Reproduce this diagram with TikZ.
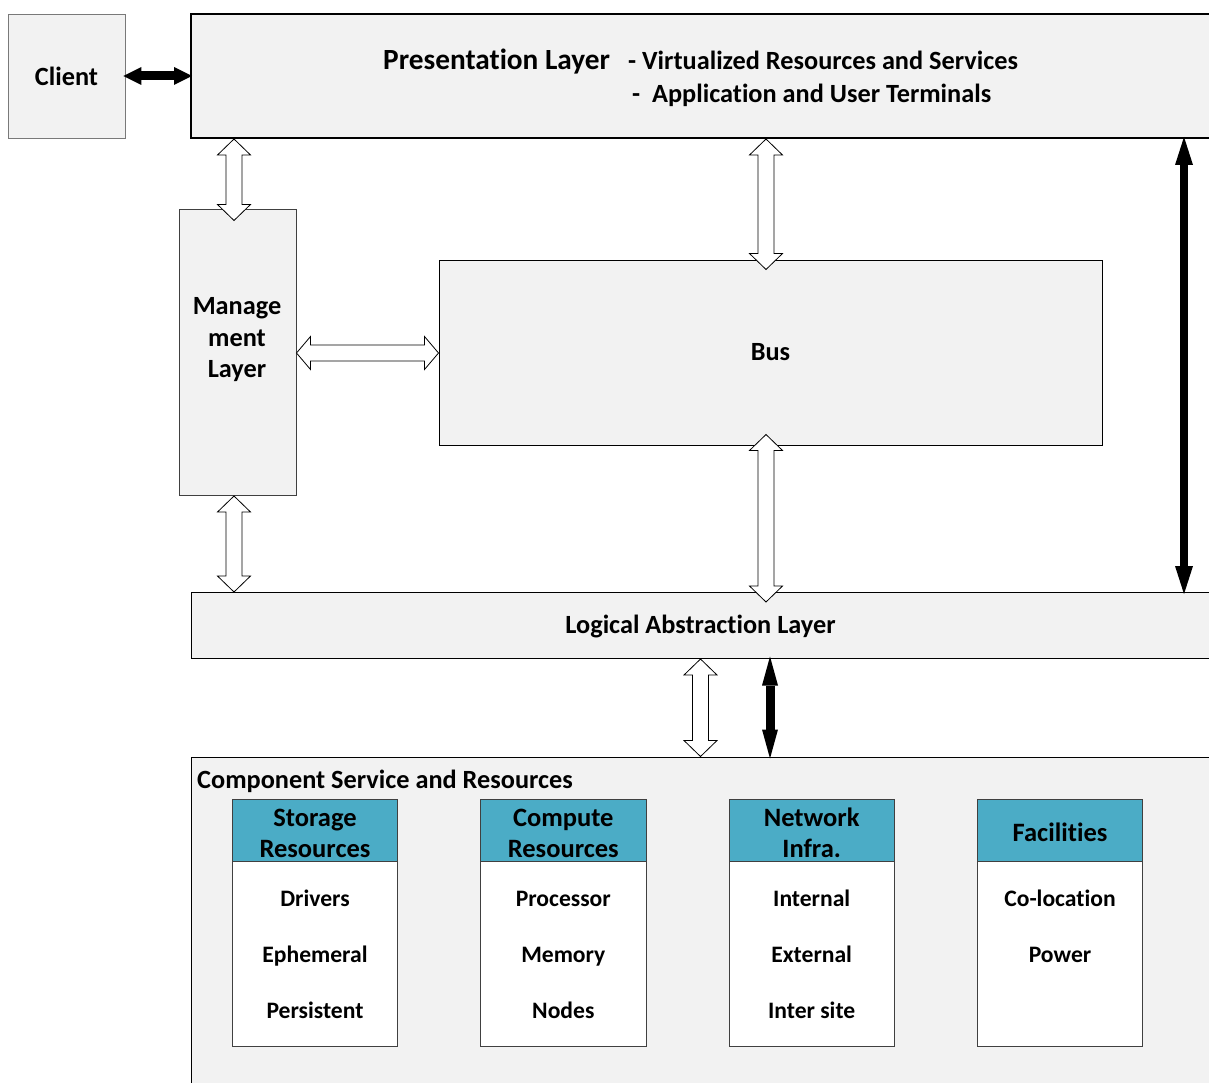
\documentclass[tikz,border=0pt]{standalone}
\usepackage{fontspec}
\setmainfont{Carlito}[Ligatures=NoCommon]
\usetikzlibrary{arrows.meta,calc}

\definecolor{boxfill}{HTML}{F2F2F2}
\definecolor{headfill}{HTML}{4BACC6}
\definecolor{edgegray}{HTML}{404040}

\newcommand{\fsTitle}{\fontsize{29.3}{34}\selectfont\bfseries}
\newcommand{\fsMain}{\fontsize{26.3}{31.5}\selectfont\bfseries}
\newcommand{\fsHead}{\fontsize{26.5}{31}\selectfont\bfseries}
\newcommand{\fsItem}{\fontsize{23.6}{27}\selectfont\bfseries}

% hollow double arrow, vertical: #1 upper tip, #2 lower tip
\newcommand{\hollowvert}[2]{%
  \draw[hollow] let \p1=(#1), \p2=(#2) in
    (\x1,\y1) -- (\x1+16.5pt,\y1-16pt) -- (\x1+8pt,\y1-16pt)
    -- (\x1+8pt,\y2+16pt) -- (\x1+16.5pt,\y2+16pt) -- (\x1,\y2)
    -- (\x1-16.5pt,\y2+16pt) -- (\x1-8pt,\y2+16pt)
    -- (\x1-8pt,\y1-16pt) -- (\x1-16.5pt,\y1-16pt) -- cycle;}
% hollow double arrow, horizontal: #1 left tip, #2 right tip
\newcommand{\hollowhoriz}[2]{%
  \draw[hollow] let \p1=(#1), \p2=(#2) in
    (\x1,\y1) -- (\x1+14pt,\y1+16.5pt) -- (\x1+14pt,\y1+8pt)
    -- (\x2-14pt,\y1+8pt) -- (\x2-14pt,\y1+16.5pt) -- (\x2,\y1)
    -- (\x2-14pt,\y1-16.5pt) -- (\x2-14pt,\y1-8pt)
    -- (\x1+14pt,\y1-8pt) -- (\x1+14pt,\y1-16.5pt) -- cycle;}

\tikzset{
  panel/.style={draw=black, line width=1pt, fill=boxfill, inner sep=0pt, font=\fsMain},
  clientbox/.style={draw=edgegray!70, line width=0.9pt, fill=boxfill, inner sep=0pt, font=\fsMain},
  txt/.style={inner sep=0pt, font=\fsMain},
  head/.style={draw=edgegray, line width=0.9pt, fill=headfill, inner sep=0pt,
    minimum width=165.5, minimum height=62, align=center, font=\fsHead},
  headtext/.style={inner sep=0pt, align=center, font=\fsHead},
  body/.style={draw=edgegray, line width=0.9pt, fill=white, inner sep=0pt,
    minimum width=165.5, minimum height=185.5},
  item/.style={inner sep=0pt, font=\fsItem, anchor=base},
  hollow/.style={draw=black, line width=0.8pt, fill=white, line join=miter},
  solidlink/.style={draw=black, line width=#1, shorten <=-2pt, shorten >=-2pt},
}

\begin{document}
\begin{tikzpicture}[x=1pt,y=-1pt]
\useasboundingbox (0,0) rectangle (1209,1083);
\clip (0,0) rectangle (1209,1083);

% layers
\node[clientbox, minimum width=117, minimum height=124] (client) at (66.5,76) {Client};
\node[panel, line width=2pt, minimum width=1021, minimum height=124] (pres) at (701.5,76) {};
\node[txt, font=\fsTitle, anchor=base west] (presT) at (383,69.5) {Presentation Layer};
\node[txt, anchor=base west] (presA) at (628,70) {- Virtualized Resources and Services};
\node[txt, anchor=base west] (presB) at (632,103) {-\ \ Application and User Terminals};

\node[panel, draw=edgegray, minimum width=117, minimum height=285] (mgmt) at (237.5,352.5) {};
\node[txt, align=center] (mgmtT) at (237,340) {Manage\\ment\\Layer};

\node[panel, minimum width=663, minimum height=185] (bus) at (770.5,352.5) {Bus};

\node[panel, minimum width=1021, minimum height=65.5] (logic) at (701.5,625.25) {};
\node[txt] (logicT) at (700.5,626.5) {Logical Abstraction Layer};

\node[panel, minimum width=1021, minimum height=333] (comp) at (701.5,923.5) {};
\node[txt, anchor=base west] (compT) at (197,788) {Component Service and Resources};

% resource groups
\node[body] (stoB) at (315,953.75) {};
\node[head] (stoH) at (315,830) {};
\node[headtext] (stoT) at (315,833) {Storage\\Resources};
\node[item] (sto1) at (315,906) {Drivers};
\node[item] (sto2) at (315,962) {Ephemeral};
\node[item] (sto3) at (315,1018) {Persistent};

\node[body] (cmpB) at (563.3,953.75) {};
\node[head] (cmpH) at (563.3,830) {};
\node[headtext] (cmpT) at (563.3,833) {Compute\\Resources};
\node[item] (cmp1) at (563.3,906) {Processor};
\node[item] (cmp2) at (563.3,962) {Memory};
\node[item] (cmp3) at (563.3,1018) {Nodes};

\node[body] (netB) at (811.7,953.75) {};
\node[head] (netH) at (811.7,830) {};
\node[headtext] (netT) at (811.7,833) {Network\\Infra.};
\node[item] (net1) at (811.7,906) {Internal};
\node[item] (net2) at (811.7,962) {External};
\node[item] (net3) at (811.7,1018) {Inter site};

\node[body] (facB) at (1060,953.75) {};
\node[head] (facH) at (1060,830) {};
\node[headtext, anchor=base] (facT) at (1060,841) {Facilities};
\node[item] (fac1) at (1060,906) {Co-location};
\node[item] (fac2) at (1060,962) {Power};

% hollow links
\hollowvert{$(pres.south -| mgmt.north)+(-3.5,0)$}{$(mgmt.north)+(-3.5,11)$}
\hollowvert{$(mgmt.south)+(-3.5,0.5)$}{$(logic.north -| mgmt.south)+(-3.5,0)$}
\hollowhoriz{$(mgmt.east)+(0,0.5)$}{$(bus.west)+(0,0.5)$}
\hollowvert{$(pres.south -| bus.north)+(-4.5,0)$}{$(bus.north)+(-4.5,10)$}
\hollowvert{$(bus.south)+(-4.5,-11)$}{$(logic.north -| bus.south)+(-4.5,10)$}
\hollowvert{$(logic.south)+(-1,0.5)$}{$(comp.north -| logic.south)+(-1,0)$}

% solid links
\draw[solidlink=9pt, {Triangle[width=18pt,length=18pt,line width=0pt]}-{Triangle[width=18pt,length=18pt,line width=0pt]}]
  (client.east) -- (pres.west);
\coordinate (rtop) at ($(pres.south)+(482.5,0)$);
\draw[solidlink=8pt, {Triangle[width=18pt,length=28pt,line width=0pt]}-{Triangle[width=18pt,length=28pt,line width=0pt]}]
  (rtop) -- (rtop |- logic.north);
\coordinate (ltop) at ($(logic.south)+(68.5,0)$);
\draw[solidlink=9pt, {Triangle[width=16pt,length=29pt,line width=0pt]}-{Triangle[width=16pt,length=29pt,line width=0pt]}]
  (ltop) -- (ltop |- comp.north);
\end{tikzpicture}
\end{document}
